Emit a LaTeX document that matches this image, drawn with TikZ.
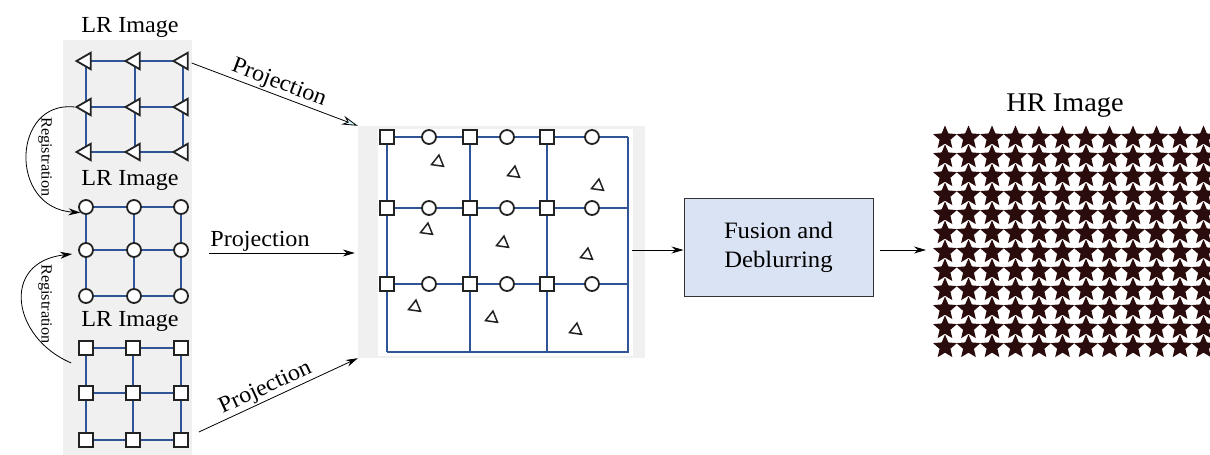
\documentclass[tikz,border=0pt]{standalone}
\usepackage{fontspec}
\setmainfont{Liberation Serif}[FakeStretch=1.05]
\usetikzlibrary{shapes.geometric,arrows.meta,calc}
\definecolor{gridblue}{HTML}{2F5597}
\definecolor{panelgray}{HTML}{F0F0F0}
\definecolor{boxblue}{HTML}{DAE3F3}
\definecolor{stardark}{HTML}{2B0C0C}
\definecolor{markline}{HTML}{222222}
\pgfdeclarelayer{bg}
\pgfdeclarelayer{lines}
\pgfsetlayers{bg,lines,main}
\begin{document}
\begin{tikzpicture}[x=1pt,y=-1pt,
  marker/.style={draw=markline,line width=1.8pt,fill=white,inner sep=0pt},
  tri/.style={marker,regular polygon,regular polygon sides=3,shape border rotate=90,minimum size=19pt},
  dot/.style={marker,circle,minimum size=14pt},
  sq/.style={marker,rectangle,minimum size=14pt},
  smalltri/.style={draw=markline,line width=1.5pt,fill=white,inner sep=0pt,regular polygon,regular polygon sides=3,minimum size=14pt},
  gridline/.style={draw=gridblue,line width=2pt},
  label/.style={font=\fontsize{23}{26}\selectfont,inner sep=1pt},
  reglabel/.style={font=\fontsize{15.5}{18}\selectfont,inner sep=0pt,rotate=-90},
  arr/.style={-{Stealth[length=12pt,width=7pt]},line width=0.8pt},
  starmark/.style={star,star points=5,star point ratio=2.2,minimum size=25pt,inner sep=0pt,fill=stardark,draw=none}]
\useasboundingbox (0,0) rectangle (1210,455);

% grey backgrounds
\begin{pgfonlayer}{bg}
  \fill[panelgray] (63,40) rectangle (192,455);
  \fill[panelgray] (358,126) rectangle (645,358);
  \fill[white] (378,129) rectangle (633,356);
\end{pgfonlayer}

% --- low-resolution input grids ---
\foreach \r/\y in {1/61,2/107,3/152}
  \foreach \c/\x in {1/86,2/135,3/183}
    \node[tri] (t\r\c) at (\x,\y) {};
\foreach \r/\y in {1/207,2/250,3/296}
  \foreach \c/\x in {1/86,2/134,3/181}
    \node[dot] (c\r\c) at (\x,\y) {};
\foreach \r/\y in {1/348,2/393,3/440}
  \foreach \c/\x in {1/86,2/133,3/181}
    \node[sq] (s\r\c) at (\x,\y) {};

\begin{pgfonlayer}{lines}
  \foreach \g in {t,c,s}{
    \foreach \r in {1,2,3}
      \draw[gridline] (\g\r1.center) -- (\g\r2.center) -- (\g\r3.center);
    \foreach \c in {1,2,3}
      \draw[gridline] (\g1\c.center) -- (\g2\c.center) -- (\g3\c.center);
  }
\end{pgfonlayer}

\node[label] (lr1) at (130,27) {LR Image};
\node[label] (lr2) at (130,180) {LR Image};
\node[label] (lr3) at (130,321) {LR Image};

% registration arrows
\draw[arr] (t21.west) .. controls (12,100) and (8,208) .. (c11.south west);
\node[reglabel] (reg1) at (45,157) {Registration};
\draw[arr] ($(s11.south west)+(-7,7)$) .. controls (12,338) and (0,262) .. ($(c21.west)+(-6,4)$);
\node[reglabel] (reg2) at (45,304) {Registration};

% --- registered high-resolution grid ---
\node[inner sep=0pt,minimum width=287pt,minimum height=232pt] (mid) at (501.5,242) {};
\foreach \r/\y in {1/137,2/208,3/284}{
  \foreach \c/\x in {1/387,2/470,3/547}
    \node[sq] (q\r\c) at (\x,\y) {};
  \foreach \c/\x in {1/429,2/507,3/592}
    \node[dot] (o\r\c) at (\x,\y) {};
  \coordinate (e\r) at (628,\y);
}
\foreach \c/\x in {1/387,2/470,3/547,4/628}
  \coordinate (b\c) at (\x,352);
\begin{pgfonlayer}{lines}
  \foreach \r in {1,2,3}
    \draw[gridline] (q\r1.center) -- (e\r);
  \foreach \c in {1,2,3}
    \draw[gridline] (q1\c.center) -- (b\c);
  \draw[gridline] (e1) -- (b4) -- (b1);
\end{pgfonlayer}
\foreach \n/\x/\y/\a in {1/438/162/-8,2/514/173/-8,3/598/186/-8,4/427/230/-8,5/503/243/-8,6/587/255/-8,7/415/307/-8,8/492/318/-8,9/576/330/-8}
  \node[smalltri,shape border rotate=\a] (d\n) at (\x,\y) {};

% projection arrows
\draw[-{Stealth[length=16pt,width=9pt,fill=cyan!15]},line width=0.8pt]
  ($(t13.east)+(3,2)$) -- node[sloped,above,label,pos=0.5] (p1) {Projection} (mid.north west);
\draw[arr] ($(c23.east)+(20,3)$) -- node[above,label,pos=0.35] (p2) {Projection} ($(mid.west)+(-3,11)$);
\draw[arr] ($(s33.east)+(10,-8)$) -- node[sloped,above,label,pos=0.45] (p3) {Projection} (mid.south west);

% fusion block and output
\node[draw=black!80,line width=1pt,fill=boxblue,minimum width=189pt,minimum height=98pt,
      align=center,font=\fontsize{23.5}{29}\selectfont] (fus) at (778.5,247) {Fusion and\\Deblurring};
\draw[arr] ($(e2)+(4,42)$) -- (fus.west |- 0,250);
\draw[arr] ($(fus.east)+(6,3)$) -- (926,250);

% high-resolution output
\node[font=\fontsize{27}{30}\selectfont] (hr) at (1065,106) {HR Image};
\foreach \i in {0,...,11}
  \foreach \j in {0,...,11}
    \node[starmark] (st\i-\j) at ({945+23.5*\i},{138+19*\j}) {};
\end{tikzpicture}
\end{document}
